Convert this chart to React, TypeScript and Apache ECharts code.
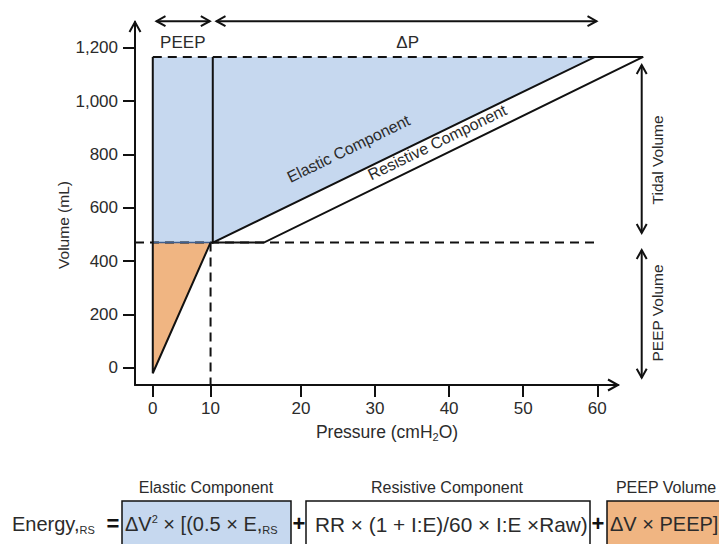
import React, { useEffect, useRef } from 'react';
import * as echarts from 'echarts';

const FONT = '"Liberation Sans", Arial, Helvetica, sans-serif';
const INK = '#111111';
const TEXT = '#2b2b2b';
const BLUE = '#c6d8ef';
const ORANGE = '#f0b582';

// ---- axis ranges / ticks ----
const xMin = -2.4;
const xMax = 62.8;
const yMin = -64;
const yMax = 1297;
const xTickPositions = [0, 7.8, 20, 30, 40, 50, 60];
const xTickLabels = ['0', '10', '20', '30', '40', '50', '60'];
const yTickValues = [0, 200, 400, 600, 800, 1000, 1200];

// ---- pressure-volume loop (pressure, volume) ----
const peepPressure = 7.8;
const peepVolume = 470;
const startVolume = -20;
const endVolume = 1166;
const elasticStartPressure = 8.1;
const elasticEndPressure = 59.7;
const resistiveKneePressure = 15;
const resistiveEndPressure = 66.2;

const bluePolygon = [
  [0, peepVolume],
  [0, endVolume],
  [elasticEndPressure, endVolume],
  [elasticStartPressure, peepVolume],
];
const orangeTriangle = [
  [0, startVolume],
  [0, peepVolume],
  [peepPressure, peepVolume],
];

// ---- dimension arrows ----
const peepArrow = [[0.5, 1300], [7.7, 1300]];
const deltaPArrow = [[8.6, 1300], [59.9, 1300]];
const tidalArrow = [[66, 1136], [66, 506]];
const peepVolumeArrow = [[66, 442], [66, -37]];

const annotations = [
  { text: 'PEEP', at: [4.05, 1222], rot: 0, size: 17 },
  { text: 'ΔP', at: [34.4, 1222], rot: 0, size: 17 },
  { text: 'Elastic Component', at: [26.4, 822], rot: 26, size: 16 },
  { text: 'Resistive Component', at: [38.4, 846], rot: 26, size: 16 },
  { text: 'Tidal Volume', at: [68.1, 780], rot: 90, size: 15.5 },
  { text: 'PEEP Volume', at: [68.1, 206], rot: 90, size: 15.5 },
];

function chevron(tip: number[], from: number[], len = 9, half = 5) {
  const dx = tip[0] - from[0];
  const dy = tip[1] - from[1];
  const d = Math.hypot(dx, dy) || 1;
  const ux = dx / d, uy = dy / d;
  const nx = -uy, ny = ux;
  const bx = tip[0] - ux * len, by = tip[1] - uy * len;
  return [
    [bx + nx * half, by + ny * half],
    [tip[0], tip[1]],
    [bx - nx * half, by - ny * half],
  ];
}

export default function App() {
  const ref = useRef<HTMLDivElement>(null);

  useEffect(() => {
    if (!ref.current) return;
    const chart = echarts.init(ref.current, null, { renderer: 'svg' });

    const renderItem = (_params: any, api: any) => {
      const c = (p: number[]) => api.coord(p);
      const kids: any[] = [];
      const poly = (pts: number[][], dash?: number[], width = 2) => ({
        type: 'polyline',
        silent: true,
        shape: { points: pts.map(c) },
        style: { stroke: INK, lineWidth: width, fill: 'none', lineDash: dash || null, lineJoin: 'miter' },
      });
      const pxPoly = (pts: number[][], width = 2) => ({
        type: 'polyline',
        silent: true,
        shape: { points: pts },
        style: { stroke: INK, lineWidth: width, fill: 'none', lineJoin: 'miter' },
      });
      const dblArrow = (seg: number[][]) => {
        const a = c(seg[0]);
        const b = c(seg[1]);
        kids.push(pxPoly([a, b]));
        kids.push(pxPoly(chevron(a, b)));
        kids.push(pxPoly(chevron(b, a)));
      };

      // fills
      kids.push({ type: 'polygon', silent: true, shape: { points: bluePolygon.map(c) }, style: { fill: BLUE, stroke: 'none' } });
      kids.push({ type: 'polygon', silent: true, shape: { points: orangeTriangle.map(c) }, style: { fill: ORANGE, stroke: 'none' } });

      // dashed guides
      kids.push(poly([[xMin, peepVolume], [60, peepVolume]], [9, 6]));
      kids.push(poly([[peepPressure, peepVolume], [peepPressure, yMin]], [9, 6]));
      kids.push(poly([[0, endVolume], [elasticEndPressure, endVolume]], [9, 6]));

      // boundary between fills
      kids.push({
        type: 'polyline', silent: true,
        shape: { points: [[0, peepVolume], [peepPressure, peepVolume]].map(c) },
        style: { stroke: '#3f5f8f', lineWidth: 1.5, fill: 'none' },
      });

      // solid outlines
      kids.push(poly([[0, endVolume], [0, startVolume], [peepPressure, peepVolume]]));
      kids.push(poly([[elasticStartPressure, endVolume], [elasticStartPressure, peepVolume], [elasticEndPressure, endVolume], [resistiveEndPressure, endVolume]]));
      kids.push(poly([[elasticStartPressure, peepVolume], [resistiveKneePressure, peepVolume], [resistiveEndPressure, endVolume]]));

      // axis arrow heads
      const xe = c([xMax, yMin]);
      kids.push(pxPoly(chevron(xe, [xe[0] - 10, xe[1]], 10, 5.5)));
      const ye = c([xMin, yMax]);
      kids.push(pxPoly(chevron(ye, [ye[0], ye[1] + 10], 10, 5.5)));

      // dimension arrows
      dblArrow(peepArrow);
      dblArrow(deltaPArrow);
      dblArrow(tidalArrow);
      dblArrow(peepVolumeArrow);

      // annotation texts
      annotations.forEach((a) => {
        const p = c(a.at);
        kids.push({
          type: 'text',
          silent: true,
          x: p[0],
          y: p[1],
          rotation: (a.rot * Math.PI) / 180,
          style: {
            text: a.text,
            fill: TEXT,
            fontSize: a.size,
            fontFamily: FONT,
            align: 'center',
            verticalAlign: 'middle',
          },
        });
      });

      return { type: 'group', children: kids };
    };

    const boxY = 501;
    const boxH = 52;
    const midY = 524;
    const eqSize = 20;

    const option: any = {
      animation: false,
      backgroundColor: '#ffffff',
      grid: { left: 135, right: 101, top: 22, bottom: 159, containLabel: false, outerBoundsMode: 'none' },
      xAxis: {
        type: 'value',
        min: xMin,
        max: xMax,
        axisLine: { show: true, onZero: false, lineStyle: { color: INK, width: 2 } },
        axisTick: { show: true, length: 12, lineStyle: { color: INK, width: 2 }, customValues: xTickPositions },
        axisLabel: {
          customValues: xTickPositions,
          formatter: (v: number) => {
            const i = xTickPositions.findIndex((t) => Math.abs(t - v) < 1e-6);
            return i >= 0 ? xTickLabels[i] : '';
          },
          color: TEXT,
          fontSize: 17,
          fontFamily: FONT,
          margin: 15,
        },
        splitLine: { show: false },
      },
      yAxis: {
        type: 'value',
        min: yMin,
        max: yMax,
        axisLine: { show: true, onZero: false, lineStyle: { color: INK, width: 2 } },
        axisTick: { show: true, length: 12, lineStyle: { color: INK, width: 2 }, customValues: yTickValues },
        axisLabel: {
          customValues: yTickValues,
          formatter: (v: number) => Math.round(v).toLocaleString('en-US'),
          color: TEXT,
          fontSize: 17,
          fontFamily: FONT,
          margin: 17,
        },
        splitLine: { show: false },
      },
      series: [
        {
          type: 'custom',
          clip: false,
          silent: true,
          data: [[0, 0]],
          renderItem,
          z: 10,
        },
      ],
      graphic: [
        // axis titles
        {
          type: 'text', x: 63, y: 225, rotation: Math.PI / 2, silent: true,
          style: { text: 'Volume (mL)', fill: TEXT, fontSize: 15.5, fontFamily: FONT, align: 'center', verticalAlign: 'middle' },
        },
        {
          type: 'text', x: 387, y: 432, silent: true,
          style: {
            text: '{a|Pressure (cmH}{s|2}{a|O)}',
            align: 'center', verticalAlign: 'middle',
            rich: {
              a: { fontSize: 17.5, fontFamily: FONT, fill: TEXT, lineHeight: 20 },
              s: { fontSize: 11, fontFamily: FONT, fill: TEXT, verticalAlign: 'bottom', lineHeight: 14 },
            },
          },
        },
        // equation headers
        { type: 'text', x: 206, y: 487, silent: true, style: { text: 'Elastic Component', fill: TEXT, fontSize: 16, fontFamily: FONT, align: 'center', verticalAlign: 'middle' } },
        { type: 'text', x: 447, y: 487, silent: true, style: { text: 'Resistive Component', fill: TEXT, fontSize: 16, fontFamily: FONT, align: 'center', verticalAlign: 'middle' } },
        { type: 'text', x: 666, y: 487, silent: true, style: { text: 'PEEP Volume', fill: TEXT, fontSize: 16, fontFamily: FONT, align: 'center', verticalAlign: 'middle' } },
        // boxes
        { type: 'rect', silent: true, shape: { x: 122, y: boxY, width: 169, height: boxH }, style: { fill: BLUE, stroke: INK, lineWidth: 1.5 } },
        { type: 'rect', silent: true, shape: { x: 306, y: boxY, width: 284, height: boxH }, style: { fill: '#ffffff', stroke: INK, lineWidth: 1.5 } },
        { type: 'rect', silent: true, shape: { x: 607, y: boxY, width: 140, height: boxH }, style: { fill: ORANGE, stroke: INK, lineWidth: 1.5 } },
        // equation texts
        {
          type: 'text', x: 12, y: midY, silent: true,
          style: {
            text: '{t|Energy,}{s|RS}', align: 'left', verticalAlign: 'middle',
            rich: {
              t: { fontSize: eqSize, fontFamily: FONT, fill: TEXT, lineHeight: 22 },
              s: { fontSize: 11, fontFamily: FONT, fill: TEXT, verticalAlign: 'bottom', lineHeight: 16 },
            },
          },
        },
        { type: 'text', x: 113, y: midY - 1, silent: true, style: { text: '=', fill: INK, fontSize: 22, fontWeight: 'bold', fontFamily: FONT, align: 'center', verticalAlign: 'middle' } },
        { type: 'text', x: 299, y: midY - 1, silent: true, style: { text: '+', fill: INK, fontSize: 22, fontWeight: 'bold', fontFamily: FONT, align: 'center', verticalAlign: 'middle' } },
        { type: 'text', x: 598, y: midY - 1, silent: true, style: { text: '+', fill: INK, fontSize: 22, fontWeight: 'bold', fontFamily: FONT, align: 'center', verticalAlign: 'middle' } },
        {
          type: 'text', x: 125, y: midY, silent: true,
          style: {
            text: '{t|ΔV}{p|2}{t| × [(0.5 × E,}{s|RS}', align: 'left', verticalAlign: 'middle',
            rich: {
              t: { fontSize: eqSize, fontFamily: FONT, fill: TEXT, lineHeight: 22 },
              p: { fontSize: 11, fontFamily: FONT, fill: TEXT, verticalAlign: 'top', lineHeight: 12 },
              s: { fontSize: 11, fontFamily: FONT, fill: TEXT, verticalAlign: 'bottom', lineHeight: 16 },
            },
          },
        },
        { type: 'text', x: 315, y: midY, silent: true, style: { text: 'RR × (1 + I:E)/60 × I:E ×Raw)', fill: TEXT, fontSize: 20.8, fontFamily: FONT, align: 'left', verticalAlign: 'middle' } },
        { type: 'text', x: 610, y: midY, silent: true, style: { text: 'ΔV × PEEP]', fill: TEXT, fontSize: eqSize, fontFamily: FONT, align: 'left', verticalAlign: 'middle' } },
      ],
    };

    chart.setOption(option);
    return () => chart.dispose();
  }, []);

  return (
    <div
      ref={ref}
      style={{ position: 'fixed', left: 0, top: 0, width: 719, height: 544, background: '#fff' }}
    />
  );
}
